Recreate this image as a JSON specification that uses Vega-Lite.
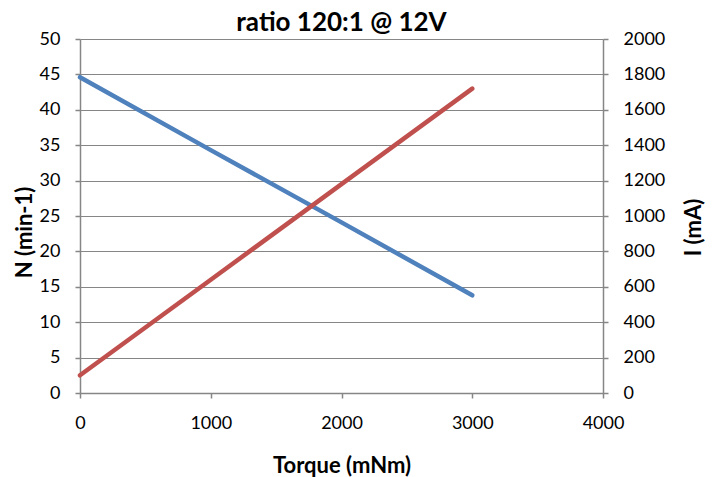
{
  "$schema": "https://vega.github.io/schema/vega-lite/v6.json",
  "width": 523,
  "height": 354,
  "autosize": "none",
  "padding": {"left": 80, "top": 39, "right": 114, "bottom": 84},
  "background": "white",
  "title": {
    "text": "ratio 120:1 @ 12V",
    "font": "Lato",
    "fontSize": 26,
    "fontWeight": "bold",
    "color": "#000000",
    "anchor": "middle",
    "baseline": "alphabetic",
    "offset": -27
  },
  "config": {
    "view": {"stroke": null},
    "axis": {
      "labelFont": "Lato",
      "labelFontSize": 18,
      "labelColor": "#000000",
      "titleFont": "Lato",
      "titleFontSize": 22,
      "titleFontWeight": "bold",
      "titleColor": "#000000",
      "domainColor": "#868686",
      "domainWidth": 1.5,
      "tickColor": "#868686",
      "tickWidth": 1.5,
      "tickSize": 5,
      "gridColor": "#868686",
      "gridWidth": 1.2,
      "gridOpacity": 1,
      "labelFlush": false
    }
  },
  "data": {
    "values": [
      {"torque": 0, "N": 44.6, "I": 100},
      {"torque": 1000, "N": 34.3, "I": 640},
      {"torque": 2000, "N": 24.1, "I": 1180},
      {"torque": 3000, "N": 13.8, "I": 1720}
    ]
  },
  "encoding": {
    "x": {
      "field": "torque",
      "type": "quantitative",
      "scale": {"domain": [0, 4000], "nice": false},
      "axis": {
        "title": "Torque (mNm)",
        "values": [0, 1000, 2000, 3000, 4000],
        "format": "d",
        "grid": false,
        "labelPadding": 16,
        "titleBaseline": "alphabetic",
        "titleY": 79
      }
    }
  },
  "layer": [
    {
      "mark": {"type": "line", "color": "#4F81BD", "strokeWidth": 4.5, "strokeCap": "round"},
      "encoding": {
        "y": {
          "field": "N",
          "type": "quantitative",
          "scale": {"domain": [0, 50], "nice": false},
          "axis": {
            "title": "N (min-1)",
            "orient": "left",
            "values": [0, 5, 10, 15, 20, 25, 30, 35, 40, 45, 50],
            "format": "d",
            "grid": true,
            "labelPadding": 15,
            "titleAngle": -90,
            "titleBaseline": "middle",
            "titleX": -56,
            "titleY": 193
          }
        }
      }
    },
    {
      "mark": {"type": "line", "color": "#C0504D", "strokeWidth": 4.5, "strokeCap": "round"},
      "encoding": {
        "y": {
          "field": "I",
          "type": "quantitative",
          "scale": {"domain": [0, 2000], "nice": false},
          "axis": {
            "title": "I (mA)",
            "orient": "right",
            "values": [0, 200, 400, 600, 800, 1000, 1200, 1400, 1600, 1800, 2000],
            "format": "d",
            "grid": false,
            "labelPadding": 15,
            "titleAngle": -90,
            "titleBaseline": "middle",
            "titleX": 90,
            "titleY": 188
          }
        }
      }
    }
  ],
  "resolve": {"scale": {"y": "independent"}}
}
